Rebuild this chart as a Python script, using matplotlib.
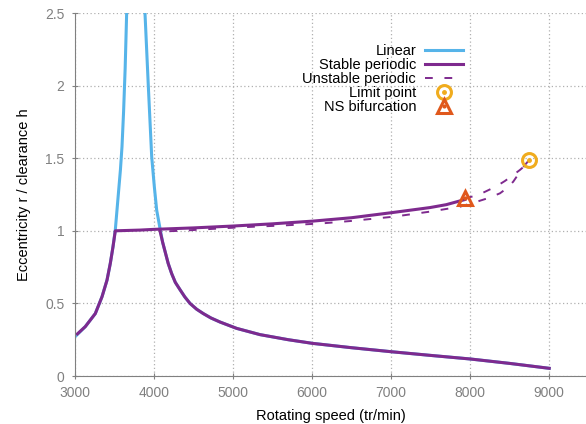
import matplotlib
matplotlib.use("Agg")
import matplotlib.pyplot as plt

plt.rcParams["font.family"] = ["Liberation Sans", "DejaVu Sans"]

# linear response, left and right of the resonance
lin_left_x = [3000, 3130, 3257, 3342, 3405, 3447, 3481, 3510, 3553, 3575,
              3595, 3615, 3635, 3654, 3665]
lin_left_y = [0.27, 0.34, 0.43, 0.546, 0.66, 0.776, 0.89, 1.005, 1.28, 1.42,
              1.58, 1.82, 2.12, 2.50, 2.75]
lin_right_x = [3878, 3886, 3928, 3971, 4005, 4034, 4076, 4110, 4139, 4180,
               4224, 4270, 4329, 4390, 4456, 4540, 4624, 4720, 4835, 5047,
               5342, 5700, 6004, 6500, 7009, 7500, 8008, 8500, 9004]
lin_right_y = [2.80, 2.50, 2.00, 1.51, 1.30, 1.143, 1.017, 0.92, 0.86, 0.775,
               0.705, 0.645, 0.595, 0.545, 0.50, 0.46, 0.43, 0.40, 0.372,
               0.328, 0.285, 0.25, 0.225, 0.195, 0.167, 0.142, 0.117, 0.087,
               0.053]

# stable periodic branches
stab_up_x = [3030, 3130, 3257, 3342, 3405, 3447, 3481, 3510, 3823, 4000,
             4500, 5004, 5500, 6016, 6500, 7009, 7494, 7700, 7935]
stab_up_y = [0.29, 0.34, 0.43, 0.546, 0.66, 0.776, 0.89, 1.00, 1.005, 1.01,
             1.02, 1.033, 1.048, 1.067, 1.09, 1.125, 1.16, 1.18, 1.215]
stab_low_x = [4076, 4110, 4139, 4180, 4224, 4270, 4329, 4390, 4456, 4540,
              4624, 4720, 4835, 5047, 5342, 5700, 6004, 6500, 7009, 7500,
              8008, 8500, 9004]
stab_low_y = [1.00, 0.92, 0.86, 0.775, 0.705, 0.645, 0.595, 0.545, 0.50, 0.46,
              0.43, 0.40, 0.372, 0.328, 0.285, 0.25, 0.225, 0.195, 0.167,
              0.142, 0.117, 0.087, 0.053]

# unstable periodic branch (from NS point to limit point and back)
unst_x = [7937, 8100, 8211, 8330, 8443, 8550, 8633, 8700, 8751, 8696, 8620,
          8548, 8460, 8380, 8230, 8085, 7873, 7494, 7030, 6500, 6101, 5600,
          5089, 4700, 4329, 4076]
unst_y = [1.224, 1.245, 1.274, 1.305, 1.343, 1.385, 1.419, 1.45, 1.488, 1.453,
          1.395, 1.338, 1.29, 1.258, 1.225, 1.20, 1.166, 1.132, 1.097, 1.068,
          1.05, 1.036, 1.024, 1.012, 1.00, 0.995]

lp_x, lp_y = [8751], [1.488]
ns_x, ns_y = [7937], [1.224]

blue = "#56b4e9"
purple = "#7e2a8e"
gold = "#f0ac1e"
red = "#e0581c"
gray = "#808080"

fig = plt.figure(figsize=(5.86, 4.24), dpi=100)
ax = fig.add_axes([0.128, 0.1132, 0.872, 0.8561])

h_lin, = ax.plot(lin_left_x, lin_left_y, color=blue, lw=2.2)
ax.plot(lin_right_x, lin_right_y, color=blue, lw=2.2)
h_stab, = ax.plot(stab_up_x, stab_up_y, color=purple, lw=2.2)
ax.plot(stab_low_x, stab_low_y, color=purple, lw=2.2)
h_unst, = ax.plot(unst_x, unst_y, color=purple, lw=1.4, dashes=(4, 6))
lp_ring, = ax.plot(lp_x, lp_y, "o", ms=10, mfc="none", mec=gold, mew=2.2)
lp_dot, = ax.plot(lp_x, lp_y, "o", ms=2.5, color=gold)
ns_tri, = ax.plot(ns_x, ns_y, "^", ms=10, mfc="none", mec=red, mew=2.2)
ns_dot, = ax.plot(ns_x, ns_y, "o", ms=2, color=red)

ax.set_xlim(3000, 9470)
ax.set_ylim(0, 2.5)
ax.set_xticks([3000, 4000, 5000, 6000, 7000, 8000, 9000])
ax.set_yticks([0, 0.5, 1, 1.5, 2, 2.5])
ax.set_yticklabels(["0", "0.5", "1", "1.5", "2", "2.5"])
ax.grid(True, color="#b0b0b0", linestyle=(0, (1, 2)), lw=0.9)
for s in ["top", "right"]:
    ax.spines[s].set_visible(False)
for s in ["left", "bottom"]:
    ax.spines[s].set_color(gray)
ax.tick_params(colors=gray, labelcolor=gray, labelsize=10, direction="inout",
               length=5, pad=5)
ax.set_xlabel("Rotating speed (tr/min)", fontsize=10.5, labelpad=6)
ax.set_ylabel("Eccentricity r / clearance h", fontsize=10.5, labelpad=10)

leg = ax.legend([h_lin, h_stab, h_unst, (lp_ring, lp_dot), (ns_tri, ns_dot)],
                ["Linear", "Stable periodic", "Unstable periodic",
                 "Limit point", "NS bifurcation"],
                loc="upper right", bbox_to_anchor=(0.759, 0.915),
                borderaxespad=0, borderpad=0, frameon=False,
                markerfirst=False, fontsize=10.5, labelspacing=0.0,
                handlelength=2.6, handletextpad=0.6)
leg._legend_box.align = "right"

fig.savefig("out.png", dpi=100)
